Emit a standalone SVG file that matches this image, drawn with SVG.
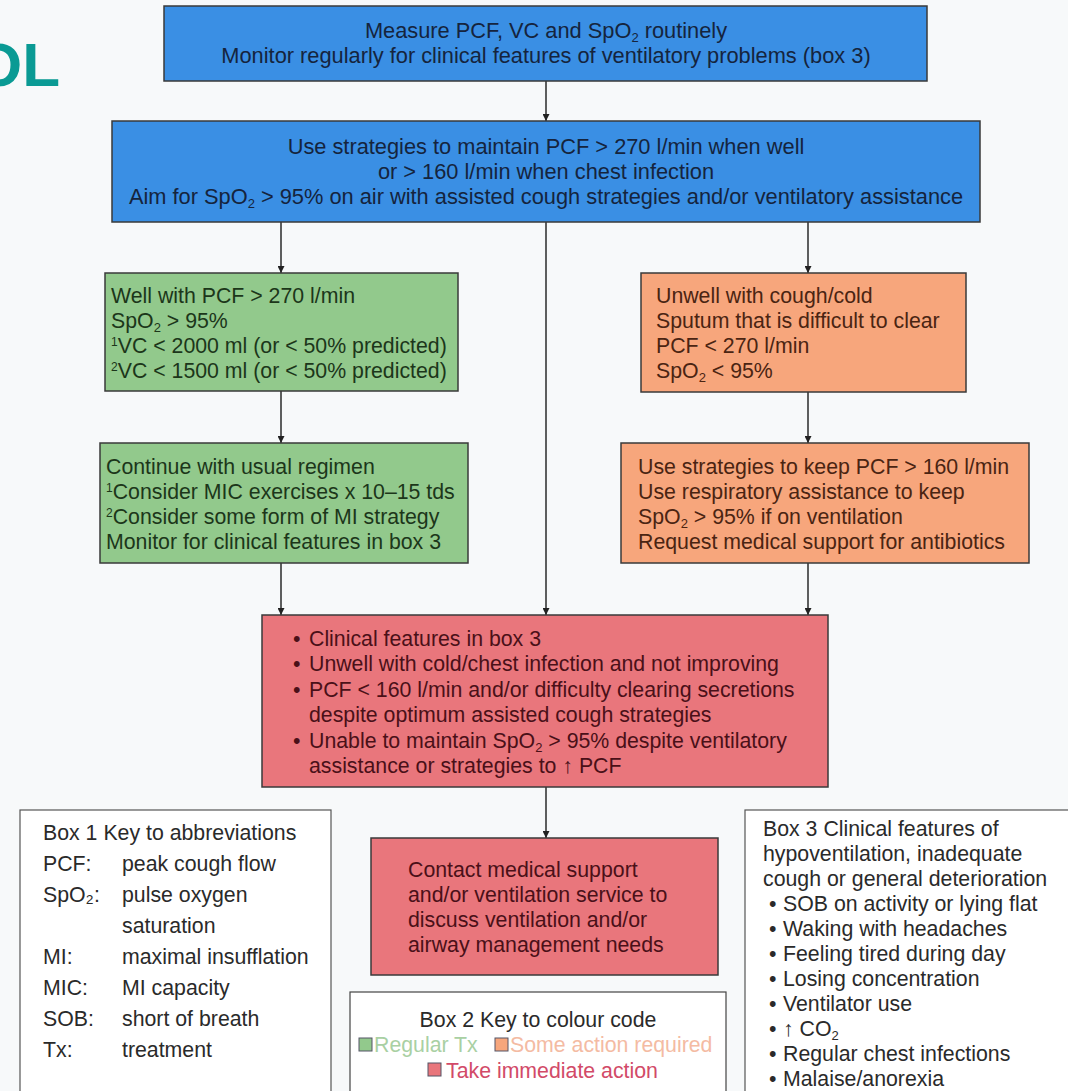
<svg xmlns="http://www.w3.org/2000/svg" width="1068" height="1091" viewBox="0 0 1068 1091">
<defs>
<marker id="ah" viewBox="0 0 10 10" refX="10" refY="5" markerWidth="7" markerHeight="7" markerUnits="userSpaceOnUse" orient="auto">
<path d="M0,0 L10,5 L0,10 z" fill="#222"/>
</marker>
<style>
text{font-family:"Liberation Sans",Arial,sans-serif;font-size:21.3px}
.box{stroke:#3a3a3a;stroke-width:1.5}
.blue{fill:#3a8fe4}
.green{fill:#92c98c}
.orange{fill:#f7a67c}
.red{fill:#e9767c}
.tb{fill:#15243d;font-size:21.8px}
.tg{fill:#1c361a}
.to{fill:#4a2412}
.tr{fill:#4a1018}
.tk{fill:#2a2a2a}
.c{text-anchor:middle}
.sub{font-size:13px}
.sup{font-size:12px}
.conn{stroke:#2a2a2a;stroke-width:1.5;fill:none}
</style>
</defs>
<rect width="1068" height="1091" fill="#f7f9fa"/>
<text x="-26" y="86" style="font-size:62px;font-weight:bold;fill:#0a9a94">OL</text>

<g id="connectors">
<line class="conn" x1="546" y1="81" x2="546" y2="121" marker-end="url(#ah)"/>
<line class="conn" x1="281" y1="222" x2="281" y2="273" marker-end="url(#ah)"/>
<line class="conn" x1="808" y1="222" x2="808" y2="273" marker-end="url(#ah)"/>
<line class="conn" x1="546" y1="222" x2="546" y2="615" marker-end="url(#ah)"/>
<line class="conn" x1="281" y1="391" x2="281" y2="443" marker-end="url(#ah)"/>
<line class="conn" x1="808" y1="392" x2="808" y2="443" marker-end="url(#ah)"/>
<line class="conn" x1="281" y1="563" x2="281" y2="615" marker-end="url(#ah)"/>
<line class="conn" x1="808" y1="563" x2="808" y2="615" marker-end="url(#ah)"/>
<line class="conn" x1="546" y1="787" x2="546" y2="838" marker-end="url(#ah)"/>
</g>

<g id="measure">
<rect class="box blue" x="164" y="6" width="763" height="75"/>
<text class="tb c" x="546" y="38">Measure PCF, VC and SpO<tspan dy="4" class="sub">2</tspan><tspan dy="-4"> routinely</tspan></text>
<text class="tb c" x="546" y="63">Monitor regularly for clinical features of ventilatory problems (box 3)</text>
</g>

<g id="strategies">
<rect class="box blue" x="112" y="121" width="868" height="101"/>
<text class="tb c" x="546" y="154">Use strategies to maintain PCF &gt; 270 l/min when well</text>
<text class="tb c" x="546" y="179">or &gt; 160 l/min when chest infection</text>
<text class="tb c" x="546" y="204">Aim for SpO<tspan dy="4" class="sub">2</tspan><tspan dy="-4"> &gt; 95% on air with assisted cough strategies and/or ventilatory assistance</tspan></text>
</g>

<g id="well">
<rect class="box green" x="105" y="273" width="353" height="118"/>
<text class="tg" x="111" y="303">Well with PCF &gt; 270 l/min</text>
<text class="tg" x="111" y="328">SpO<tspan dy="4" class="sub">2</tspan><tspan dy="-4"> &gt; 95%</tspan></text>
<text class="tg" x="111" y="353"><tspan dy="-7" class="sup">1</tspan><tspan dy="7">VC &lt; 2000 ml (or &lt; 50% predicted)</tspan></text>
<text class="tg" x="111" y="378"><tspan dy="-7" class="sup">2</tspan><tspan dy="7">VC &lt; 1500 ml (or &lt; 50% predicted)</tspan></text>
</g>

<g id="continue">
<rect class="box green" x="100" y="443" width="368" height="120"/>
<text class="tg" x="106" y="474">Continue with usual regimen</text>
<text class="tg" x="106" y="499"><tspan dy="-7" class="sup">1</tspan><tspan dy="7">Consider MIC exercises x 10–15 tds</tspan></text>
<text class="tg" x="106" y="524"><tspan dy="-7" class="sup">2</tspan><tspan dy="7">Consider some form of MI strategy</tspan></text>
<text class="tg" x="106" y="549">Monitor for clinical features in box 3</text>
</g>

<g id="unwell">
<rect class="box orange" x="641" y="273" width="325" height="119"/>
<text class="to" x="656" y="303">Unwell with cough/cold</text>
<text class="to" x="656" y="328">Sputum that is difficult to clear</text>
<text class="to" x="656" y="353">PCF &lt; 270 l/min</text>
<text class="to" x="656" y="378">SpO<tspan dy="4" class="sub">2</tspan><tspan dy="-4"> &lt; 95%</tspan></text>
</g>

<g id="keep">
<rect class="box orange" x="621" y="443" width="408" height="120"/>
<text class="to" x="638" y="474">Use strategies to keep PCF &gt; 160 l/min</text>
<text class="to" x="638" y="499">Use respiratory assistance to keep</text>
<text class="to" x="638" y="524">SpO<tspan dy="4" class="sub">2</tspan><tspan dy="-4"> &gt; 95% if on ventilation</tspan></text>
<text class="to" x="638" y="549">Request medical support for antibiotics</text>
</g>

<g id="clinical">
<rect class="box red" x="262" y="615" width="566" height="172"/>
<text class="tr" x="293" y="646">•</text><text class="tr" x="309" y="646">Clinical features in box 3</text>
<text class="tr" x="293" y="671">•</text><text class="tr" x="309" y="671">Unwell with cold/chest infection and not improving</text>
<text class="tr" x="293" y="697">•</text><text class="tr" x="309" y="697">PCF &lt; 160 l/min and/or difficulty clearing secretions</text>
<text class="tr" x="309" y="722">despite optimum assisted cough strategies</text>
<text class="tr" x="293" y="748">•</text><text class="tr" x="309" y="748">Unable to maintain SpO<tspan dy="4" class="sub">2</tspan><tspan dy="-4"> &gt; 95% despite ventilatory</tspan></text>
<text class="tr" x="309" y="773">assistance or strategies to ↑ PCF</text>
</g>

<g id="contact">
<rect class="box red" x="371" y="838" width="347" height="137"/>
<text class="tr" x="408" y="877">Contact medical support</text>
<text class="tr" x="408" y="902">and/or ventilation service to</text>
<text class="tr" x="408" y="927">discuss ventilation and/or</text>
<text class="tr" x="408" y="952">airway management needs</text>
</g>

<g id="box1">
<rect x="20" y="810" width="311" height="300" fill="#fff" stroke="#555" stroke-width="1.2"/>
<text class="tk" x="43" y="840">Box 1 Key to abbreviations</text>
<text class="tk" x="43" y="871">PCF:</text><text class="tk" x="122" y="871">peak cough flow</text>
<text class="tk" x="43" y="902">SpO₂:</text><text class="tk" x="122" y="902">pulse oxygen</text>
<text class="tk" x="122" y="933">saturation</text>
<text class="tk" x="43" y="964">MI:</text><text class="tk" x="122" y="964">maximal insufflation</text>
<text class="tk" x="43" y="995">MIC:</text><text class="tk" x="122" y="995">MI capacity</text>
<text class="tk" x="43" y="1026">SOB:</text><text class="tk" x="122" y="1026">short of breath</text>
<text class="tk" x="43" y="1057">Tx:</text><text class="tk" x="122" y="1057">treatment</text>
</g>

<g id="box2">
<rect x="350" y="992" width="376" height="120" fill="#fff" stroke="#444" stroke-width="1.2"/>
<text class="tk c" x="538" y="1027">Box 2 Key to colour code</text>
<rect x="359" y="1038" width="13" height="13" class="green" stroke="#556" stroke-width="1"/>
<text x="374" y="1052" style="fill:#a9d0a3">Regular Tx</text>
<rect x="495" y="1038" width="13" height="13" class="orange" stroke="#556" stroke-width="1"/>
<text x="510" y="1052" style="fill:#f4bba3">Some action required</text>
<rect x="428" y="1063" width="13" height="13" class="red" stroke="#556" stroke-width="1"/>
<text x="446" y="1078" style="fill:#d24a68">Take immediate action</text>
</g>

<g id="box3">
<rect x="745" y="810" width="340" height="300" fill="#fff" stroke="#555" stroke-width="1.2"/>
<text class="tk" x="763" y="836">Box 3 Clinical features of</text>
<text class="tk" x="763" y="861">hypoventilation, inadequate</text>
<text class="tk" x="763" y="886">cough or general deterioration</text>
<text class="tk" x="769" y="911">•</text><text class="tk" x="783" y="911">SOB on activity or lying flat</text>
<text class="tk" x="769" y="936">•</text><text class="tk" x="783" y="936">Waking with headaches</text>
<text class="tk" x="769" y="961">•</text><text class="tk" x="783" y="961">Feeling tired during day</text>
<text class="tk" x="769" y="986">•</text><text class="tk" x="783" y="986">Losing concentration</text>
<text class="tk" x="769" y="1011">•</text><text class="tk" x="783" y="1011">Ventilator use</text>
<text class="tk" x="769" y="1036">•</text><text class="tk" x="783" y="1036">↑ CO<tspan dy="4" class="sub">2</tspan></text>
<text class="tk" x="769" y="1061">•</text><text class="tk" x="783" y="1061">Regular chest infections</text>
<text class="tk" x="769" y="1086">•</text><text class="tk" x="783" y="1086">Malaise/anorexia</text>
</g>
</svg>
